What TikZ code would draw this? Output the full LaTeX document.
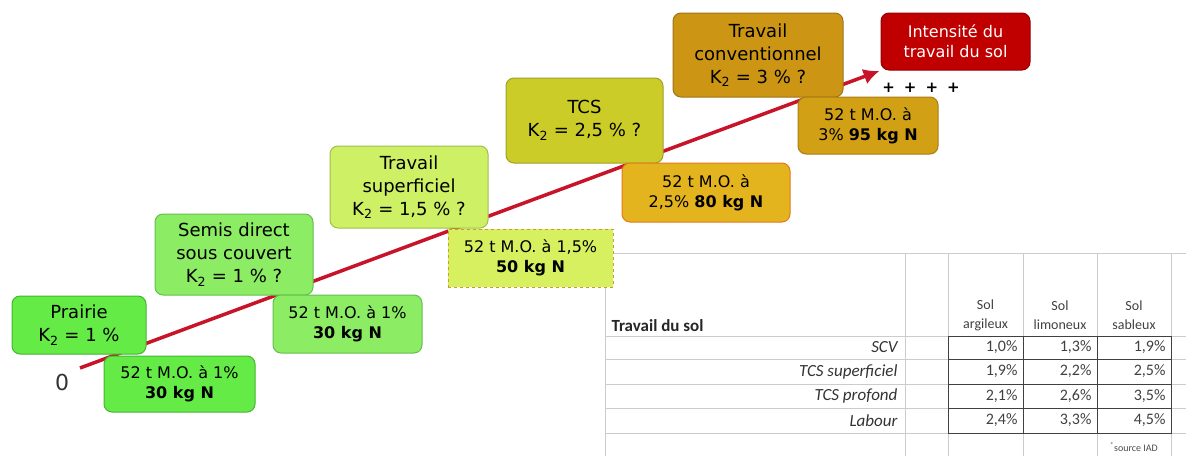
\documentclass[tikz,border=0pt]{standalone}
\usepackage{fontspec}
\setmainfont{DejaVu Sans}
\newfontfamily\tabfont{Carlito}
\usetikzlibrary{arrows.meta,backgrounds}
\definecolor{prairieC}{RGB}{100,235,70}
\definecolor{prairieD}{RGB}{70,180,50}
\definecolor{semisC}{RGB}{140,236,100}
\definecolor{semisD}{RGB}{100,190,80}
\definecolor{superfC}{RGB}{206,240,100}
\definecolor{superfD}{RGB}{160,190,80}
\definecolor{tcsC}{RGB}{204,204,40}
\definecolor{tcsD}{RGB}{160,160,40}
\definecolor{convC}{RGB}{204,150,20}
\definecolor{convD}{RGB}{160,115,20}
\definecolor{intensC}{RGB}{192,0,0}
\definecolor{intensD}{RGB}{150,0,0}
\definecolor{dashC}{RGB}{214,240,96}
\definecolor{dashD}{RGB}{200,160,40}
\definecolor{tcsnC}{RGB}{228,180,30}
\definecolor{tcsnD}{RGB}{230,120,30}
\definecolor{convnC}{RGB}{210,160,20}
\definecolor{convnD}{RGB}{170,125,20}
\definecolor{axisred}{RGB}{200,20,40}
\begin{document}
\begin{tikzpicture}[x=1pt,y=-1pt,
	kbox/.style={draw, rounded corners=8pt, line width=1pt, align=center, inner sep=1pt,
		font=\fontsize{18}{23}\selectfont},
	mbox/.style={kbox, font=\fontsize{16}{20}\selectfont},
	grid/.style={draw=gray!40, line width=.8pt},
	cellbox/.style={draw=black!75, line width=1pt},
	hdr/.style={align=center, text=black!75, font=\tabfont\fontsize{14}{19}\selectfont},
	rowlab/.style={anchor=east, text=black!80, font=\tabfont\itshape\fontsize{17}{19}\selectfont},
	val/.style={anchor=east, text=black!75, font=\tabfont\fontsize{16}{18}\selectfont},
	axis/.style={draw=axisred, line width=3.5pt, -{Latex[length=16pt,width=16pt]}, shorten >=1pt}]
		\useasboundingbox (0,0) rectangle (1186,456);
		% tableau
		\foreach \y in {253,336,359,384,408,433} \draw[grid] (605,\y) -- (1186,\y);
		\foreach \x in {605,905,948,1023,1097,1171} \draw[grid] (\x,253) -- (\x,456);
		\draw[cellbox] (948,336) rectangle (1171,433);
		\foreach \y in {359,384,408} \draw[cellbox] (948,\y) -- (1171,\y);
		\foreach \x in {1023,1097} \draw[cellbox] (\x,336) -- (\x,433);
		\node[anchor=west, text=black!85, font=\tabfont\bfseries\fontsize{17}{19}\selectfont] (tsol) at (608,326) {Travail du sol};
		\node[hdr] (harg) at (985.5,315) {Sol\\argileux};
		\node[hdr] (hlim) at (1060,315) {Sol\\limoneux};
		\node[hdr] (hsab) at (1134,315) {Sol\\sableux};
		\foreach \y/\lab/\a/\b/\c in {347.5/SCV/1{,}0/1{,}3/1{,}9, 371.5/TCS superficiel/1{,}9/2{,}2/2{,}5,
			396/TCS profond/2{,}1/2{,}6/3{,}5, 420.5/Labour/2{,}4/3{,}3/4{,}5}{
			\node[rowlab] (r\y) at (901,\y) {\lab};
			\node[val] (r\y-a) at (1021,\y) {\a\%};
			\node[val] (r\y-b) at (1095,\y) {\b\%};
			\node[val] (r\y-c) at (1169,\y) {\c\%};
		}
		\node[text=black!70, font=\tabfont\fontsize{10}{12}\selectfont] (src) at (1134,447) {\textsuperscript{*}source IAD};
		% etapes
		\node[kbox, fill=prairieC, draw=prairieD, minimum width=134pt, minimum height=58pt] (prairie) at (79,325)
			{Prairie\\K\textsubscript{2} = 1 \%};
		\node[kbox, fill=semisC, draw=semisD, minimum width=158pt, minimum height=81pt] (semis) at (234,254.5)
			{Semis direct\\sous couvert\\K\textsubscript{2} = 1 \% ?};
		\node[kbox, fill=superfC, draw=superfD, minimum width=158pt, minimum height=82pt] (superf) at (409,187)
			{Travail\\superficiel\\K\textsubscript{2} = 1,5 \% ?};
		\node[kbox, fill=tcsC, draw=tcsD, minimum width=157pt, minimum height=85pt] (tcs) at (584.5,120.5)
			{TCS\\K\textsubscript{2} = 2,5 \% ?};
		\node[kbox, fill=convC, draw=convD, minimum width=170pt, minimum height=84pt] (conv) at (758,55)
			{Travail\\conventionnel\\K\textsubscript{2} = 3 \% ?};
		\node[mbox, fill=intensC, draw=intensD, text=white, minimum width=149pt, minimum height=57pt] (intens) at (955.5,41.5)
			{Intensité du\\travail du sol};
		% azote
		\node[mbox, fill=prairieC, draw=prairieD, minimum width=151pt, minimum height=56pt] (nprairie) at (179.5,384)
			{52 t M.O. à 1\%\\\textbf{30 kg N}};
		\node[mbox, fill=semisC, draw=semisD, minimum width=149pt, minimum height=58pt] (nsemis) at (347.5,324)
			{52 t M.O. à 1\%\\\textbf{30 kg N}};
		\node[mbox, fill=dashC, draw=dashD, dashed, rounded corners=0pt, minimum width=165pt, minimum height=58pt] (nsuperf) at (530.5,258)
			{52 t M.O. à 1,5\%\\\textbf{50 kg N}};
		\node[mbox, fill=tcsnC, draw=tcsnD, minimum width=168pt, minimum height=59pt] (ntcs) at (706,192.5)
			{52 t M.O. à\\2,5\% \textbf{80 kg N}};
		\node[mbox, fill=convnC, draw=convnD, minimum width=140pt, minimum height=57pt] (nconv) at (868,125.5)
			{52 t M.O. à\\3\% \textbf{95 kg N}};
		\node[text=black!80, font=\fontsize{22}{24}\selectfont] (zero) at (62,382) {0};
		\node[font=\bfseries\fontsize{15}{16}\selectfont] (plus) at (921,88) {+\hspace{9pt}+\hspace{9pt}+\hspace{9pt}+};
		\coordinate (orig) at (80,368);
		\begin{scope}[on background layer]
			\draw[axis] (orig) -- (intens.south west);
		\end{scope}
	\end{tikzpicture}
\end{document}
